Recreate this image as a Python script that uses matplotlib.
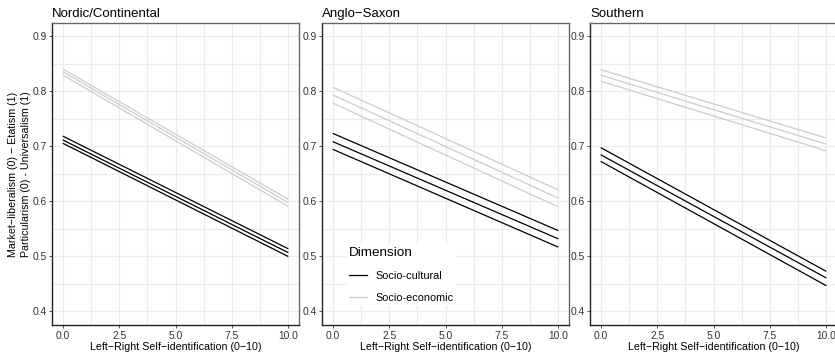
import matplotlib.pyplot as plt
from matplotlib.ticker import MultipleLocator

plt.rcParams['font.family'] = ['Liberation Sans', 'DejaVu Sans']

# Data: predicted values (lower, fit, upper) at left-right 0 and 10
x_ends = [0, 10]
regions = ['Nordic/Continental', 'Anglo\u2212Saxon', 'Southern']

cultural = {
    'Nordic/Continental': [[0.705, 0.500], [0.711, 0.507], [0.718, 0.514]],
    'Anglo\u2212Saxon': [[0.694, 0.517], [0.708, 0.532], [0.723, 0.547]],
    'Southern': [[0.672, 0.447], [0.684, 0.461], [0.697, 0.473]],
}
economic = {
    'Nordic/Continental': [[0.829, 0.591], [0.835, 0.598], [0.840, 0.604]],
    'Anglo\u2212Saxon': [[0.778, 0.590], [0.793, 0.606], [0.807, 0.621]],
    'Southern': [[0.818, 0.692], [0.829, 0.704], [0.839, 0.715]],
}

W, H = 835, 357
panel_left = [52, 322, 590]
panel_width = 247
top, bottom = 23, 325

fig = plt.figure(figsize=(W / 100, H / 100), dpi=100)

axes = []
for i, region in enumerate(regions):
    ax = fig.add_axes([panel_left[i] / W, 1 - bottom / H,
                       panel_width / W, (bottom - top) / H])
    axes.append(ax)

    for k, vals in enumerate(cultural[region]):
        ax.plot(x_ends, vals, color='black', lw=0.9,
                label='Socio-cultural' if k == 0 else None)
    for k, vals in enumerate(economic[region]):
        ax.plot(x_ends, vals, color='#cccccc', lw=0.9,
                label='Socio-economic' if k == 0 else None)

    ax.set_xlim(-0.5, 10.5)
    ax.set_ylim(0.375, 0.924)
    ax.xaxis.set_minor_locator(MultipleLocator(1.25))
    ax.yaxis.set_minor_locator(MultipleLocator(0.05))
    ax.set_xticks([0, 2.5, 5, 7.5, 10])
    ax.set_xticklabels(['0.0', '2.5', '5.0', '7.5', '10.0'])
    ax.set_yticks([0.4, 0.5, 0.6, 0.7, 0.8, 0.9])
    ax.set_yticklabels(['0.4', '0.5', '0.6', '0.7', '0.8', '0.9'])
    ax.grid(True, which='both', color='#ebebeb', lw=0.8)
    ax.set_axisbelow(True)
    ax.tick_params(which='major', length=2.5, width=0.6, color='#333333',
                   labelsize=7.4, labelcolor='#333333', pad=1.5)
    ax.tick_params(which='minor', length=0)

    for side in ['top', 'right']:
        ax.spines[side].set_color('#666666')
        ax.spines[side].set_linewidth(1.0)
    for side in ['left', 'bottom']:
        ax.spines[side].set_color('#222222')
        ax.spines[side].set_linewidth(1.0)

    ax.set_title(region, loc='left', fontsize=9.5, pad=4)
    ax.set_xlabel('Left\u2212Right Self\u2212identification (0\u221210)',
                  fontsize=7.7, labelpad=1)

axes[0].set_ylabel('Market\u2212liberalism (0) \u2212 Etatism (1)\n'
                   'Particularism (0) - Universalism (1)',
                   fontsize=7.7, labelpad=0.5, linespacing=1.45)

leg = axes[1].legend(loc='lower left', bbox_to_anchor=(0.079, 0.05),
                     title='Dimension', fontsize=7.8, title_fontsize=9.7,
                     frameon=True, fancybox=False, borderpad=0.15,
                     handlelength=1.7, handletextpad=0.8, labelspacing=1.1)
leg.get_frame().set_facecolor('white')
leg.get_frame().set_edgecolor('white')
leg.get_frame().set_alpha(1)
leg._legend_box.align = 'left'

fig.savefig('out.png', dpi=100)
